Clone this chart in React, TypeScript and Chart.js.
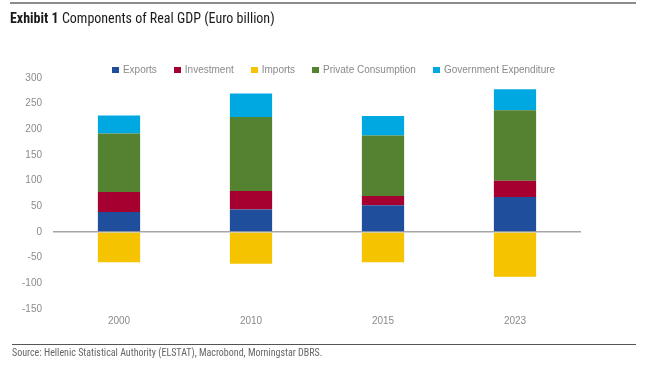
import React, { useEffect, useRef } from "react";
import { Chart, registerables } from "chart.js";

Chart.register(...registerables);

const categories = ["2000", "2010", "2015", "2023"];
const exportsVals = [39, 44, 52, 68];
const investmentVals = [39, 36, 18, 32];
const importsVals = [-59, -62, -59, -87];
const privateVals = [114, 144, 118, 137];
const govVals = [35, 46, 38, 41];
const yTicks = [300, 250, 200, 150, 100, 50, 0, -50, -100, -150];

const seriesNames = ["Exports", "Investment", "Imports", "Private Consumption", "Government Expenditure"];
const seriesColors = ["#1f4e9d", "#a5002f", "#f5c300", "#558230", "#00a8e1"];

const narrow = "'Liberation Sans Narrow', 'Roboto Condensed', 'DejaVu Sans Condensed', 'Liberation Sans', sans-serif";
const tickFont = "'Liberation Sans', Arial, sans-serif";

export default function App() {
  const ref = useRef<HTMLCanvasElement | null>(null);

  useEffect(() => {
    document.body.style.margin = "0";
    const values = [exportsVals, investmentVals, importsVals, privateVals, govVals];
    const chart = new Chart(ref.current!, {
      type: "bar",
      data: {
        labels: categories,
        datasets: seriesNames.map((n, i) => ({
          label: n,
          data: values[i],
          backgroundColor: seriesColors[i],
          borderWidth: 0,
          barPercentage: 0.32,
          categoryPercentage: 1,
        })),
      },
      options: {
        animation: false,
        responsive: false,
        maintainAspectRatio: false,
        layout: { padding: { top: 78, bottom: 45, left: 0, right: 84 } },
        plugins: { legend: { display: false }, tooltip: { enabled: false } },
        scales: {
          x: {
            stacked: true,
            grid: { display: false },
            border: { display: false },
            ticks: { color: "#8a8a8a", font: { family: tickFont, size: 10 }, padding: -2 },
          },
          y: {
            stacked: true,
            min: -150,
            max: 300,
            afterBuildTicks: (axis: any) => {
              axis.ticks = yTicks.map((v) => ({ value: v }));
            },
            afterFit: (axis: any) => {
              axis.width = 53;
            },
            grid: {
              drawTicks: false,
              color: (ctx: any) => (ctx.tick && ctx.tick.value === 0 ? "#a6a6a6" : "rgba(0,0,0,0)"),
              lineWidth: (ctx: any) => (ctx.tick && ctx.tick.value === 0 ? 1.5 : 0),
            },
            border: { display: false },
            ticks: { color: "#8a8a8a", font: { family: tickFont, size: 10 }, padding: 11 },
          },
        },
      },
    });
    return () => chart.destroy();
  }, []);

  return (
    <div style={{ position: "relative", width: 665, height: 370, overflow: "hidden", background: "#fff" }}>
      <canvas ref={ref} width={665} height={370} style={{ position: "absolute", left: 0, top: 0 }} />
      <div style={{ position: "absolute", left: 10, top: 2, width: 626, height: 2, background: "#8c8c8c" }} />
      <div
        style={{
          position: "absolute",
          left: 10,
          top: 9,
          fontFamily: narrow,
          fontSize: 14,
          color: "#1a1a1a",
          whiteSpace: "nowrap",
          lineHeight: "18px",
        }}
      >
        <b>Exhibit 1</b> Components of Real GDP (Euro billion)
      </div>
      <div
        style={{
          position: "absolute",
          left: 0,
          width: 667,
          top: 63,
          display: "flex",
          justifyContent: "center",
          gap: 17,
          fontFamily: tickFont,
          fontSize: 10,
          color: "#8a8a8a",
          lineHeight: "14px",
          whiteSpace: "nowrap",
        }}
      >
        {seriesNames.map((n, i) => (
          <div key={n} style={{ display: "flex", alignItems: "center" }}>
            <span style={{ display: "inline-block", width: 7, height: 6, background: seriesColors[i], marginRight: 4 }} />
            {n}
          </div>
        ))}
      </div>
      <div style={{ position: "absolute", left: 12, top: 344, width: 624, height: 1, background: "#555" }} />
      <div
        style={{
          position: "absolute",
          left: 12,
          top: 346,
          fontFamily: narrow,
          fontSize: 10,
          color: "#666",
          lineHeight: "14px",
          whiteSpace: "nowrap",
        }}
      >
        Source: Hellenic Statistical Authority (ELSTAT), Macrobond, Morningstar DBRS.
      </div>
    </div>
  );
}
